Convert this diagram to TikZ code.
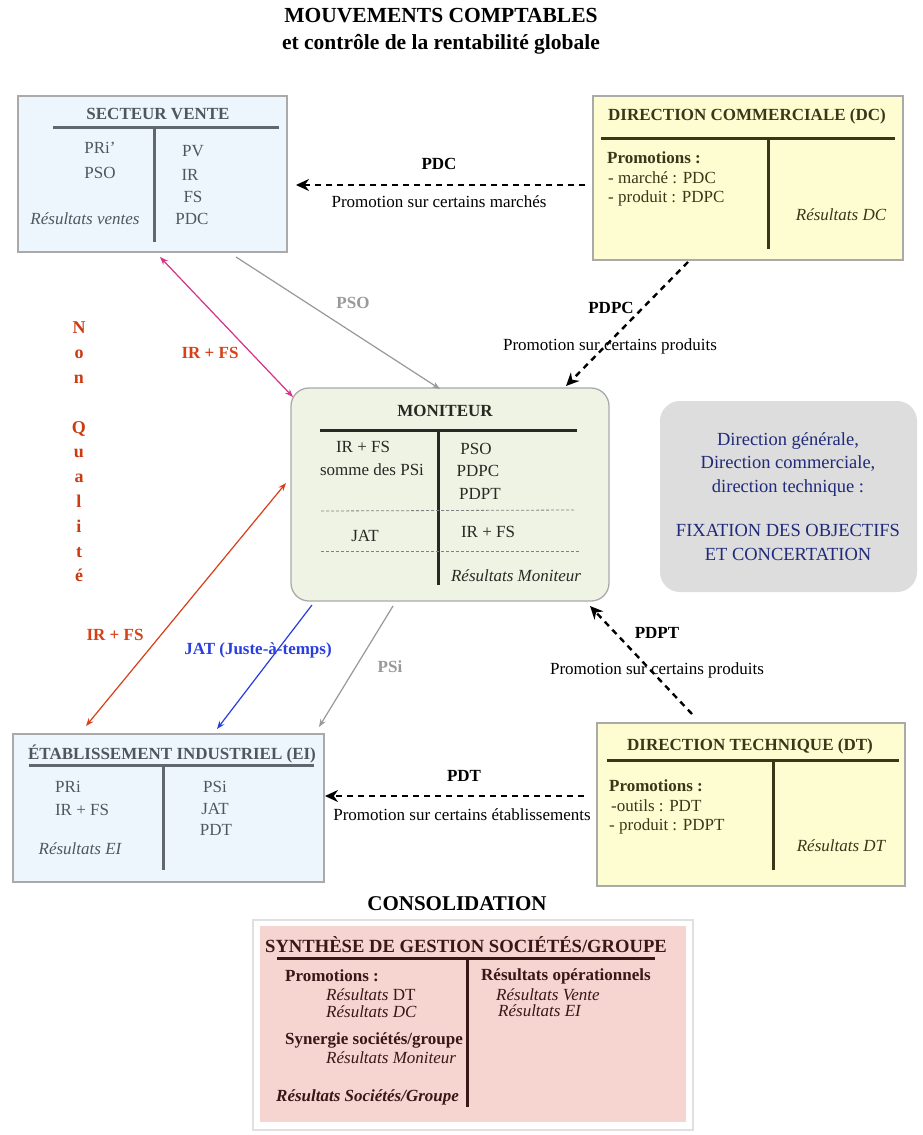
\documentclass[tikz,border=0pt]{standalone}
\usepackage{fontspec}
\setmainfont{Liberation Serif}
\usetikzlibrary{arrows.meta}
\definecolor{bluefill}{HTML}{EEF6FD}
\definecolor{yelfill}{HTML}{FEFDD2}
\definecolor{grnfill}{HTML}{EEF3E4}
\definecolor{grayfill}{HTML}{DDDDDD}
\definecolor{pinkfill}{HTML}{F6D4D0}
\definecolor{boxborder}{HTML}{AAAAAA}
\definecolor{bluetxt}{HTML}{4E5660}
\definecolor{yeltxt}{HTML}{3A3618}
\definecolor{grntxt}{HTML}{262A24}
\definecolor{constxt}{HTML}{3A1616}
\definecolor{navytxt}{HTML}{1F2A7A}
\definecolor{nqred}{HTML}{CC3A12}
\definecolor{arrpink}{HTML}{D6338A}
\definecolor{arrred}{HTML}{D8401A}
\definecolor{arrblue}{HTML}{2A3EE0}
\definecolor{arrgray}{HTML}{999999}
\tikzset{
  box/.style={draw=boxborder, line width=1.3pt, inner sep=0pt},
  txt/.style={inner sep=0pt, font=\fontsize{17}{20}\selectfont},
  btxt/.style={inner sep=0pt, font=\bfseries\fontsize{17}{20}\selectfont},
  itxt/.style={inner sep=0pt, font=\itshape\fontsize{17}{20}\selectfont},
  tline/.style={line width=3pt},
  dasharrow/.style={line width=2.4pt, dash pattern=on 6pt off 5pt, -{Stealth[length=13pt,width=12pt]}},
  thinarrow/.style={line width=1.2pt, -{Stealth[length=8pt,width=6pt]}},
  dblarrow/.style={line width=1.2pt, {Stealth[length=8pt,width=6pt]}-{Stealth[length=8pt,width=6pt]}},
}
\begin{document}
\begin{tikzpicture}[x=1pt,y=-1pt]
\useasboundingbox[fill=white] (0,0) rectangle (923,1135);

% Title
\node[align=center, inner sep=0pt, font=\bfseries\fontsize{21.5}{27}\selectfont] (title) at (441,31) {MOUVEMENTS COMPTABLES\\et contrôle de la rentabilité globale};

% ---------- SECTEUR VENTE ----------
\node[box, fill=bluefill, minimum width=269pt, minimum height=156pt] (sv) at (152.5,174) {};
\node[btxt, text=bluetxt] (svt) at (158,114) {SECTEUR VENTE};
\draw[tline, draw=bluetxt!90] (53,127) -- (279,127);
\draw[tline, draw=bluetxt!90] (154,127) -- (154,242);
\node[txt, text=bluetxt] (sv1) at (100,148) {PRi’};
\node[txt, text=bluetxt] (sv2) at (100,173) {PSO};
\node[itxt, text=bluetxt] (sv3) at (85,219) {Résultats ventes};
\node[txt, text=bluetxt] (sv4) at (193,151) {PV};
\node[txt, text=bluetxt] (sv5) at (190,175) {IR};
\node[txt, text=bluetxt] (sv6) at (193,197) {FS};
\node[txt, text=bluetxt] (sv7) at (192,219) {PDC};

% ---------- DIRECTION COMMERCIALE ----------
\node[box, fill=yelfill, minimum width=310pt, minimum height=164pt] (dc) at (748,178) {};
\node[btxt, text=yeltxt] (dct) at (747,116) {DIRECTION COMMERCIALE (DC)};
\draw[tline, draw=yeltxt] (601,138) -- (895,138);
\draw[tline, draw=yeltxt] (768,138) -- (768,249);
\node[btxt, text=yeltxt, anchor=west] (dc1) at (607,158) {Promotions :};
\node[txt, text=yeltxt, anchor=west] (dc2) at (608,178) {- marché : PDC};
\node[txt, text=yeltxt, anchor=west] (dc3) at (608,198) {- produit : PDPC};
\node[itxt, text=yeltxt] (dc4) at (841,215) {Résultats DC};

% ---------- MONITEUR ----------
\node[box, fill=grnfill, rounded corners=18pt, minimum width=318pt, minimum height=213pt] (mon) at (450,494.5) {};
\node[btxt, text=grntxt] (mont) at (445,411) {MONITEUR};
\draw[tline, draw=grntxt] (320,430) -- (577,430);
\draw[tline, draw=grntxt] (438,430) -- (438,585);
\draw[gray, line width=0.8pt, dash pattern=on 3pt off 2pt] (321,511) -- (574,510);
\draw[gray, line width=0.8pt, dash pattern=on 3pt off 2pt] (321,551) -- (580,551);
\node[txt, text=grntxt] (m1) at (363,447) {IR + FS};
\node[txt, text=grntxt] (m2) at (372,470) {somme des PSi};
\node[txt, text=grntxt] (m3) at (476,449) {PSO};
\node[txt, text=grntxt] (m4) at (478,471) {PDPC};
\node[txt, text=grntxt] (m5) at (480,494) {PDPT};
\node[txt, text=grntxt] (m6) at (365,536) {JAT};
\node[txt, text=grntxt] (m7) at (488,532) {IR + FS};
\node[itxt, text=grntxt] (m8) at (516,576) {Résultats Moniteur};

% ---------- GRAY BOX ----------
\node[fill=grayfill, rounded corners=20pt, minimum width=257pt, minimum height=191pt, inner sep=0pt] (gb) at (788.5,496.5) {};
\node[align=center, inner sep=0pt, text=navytxt, font=\fontsize{18.5}{23.5}\selectfont] (gbt) at (788,496.5)
 {Direction générale,\\Direction commerciale,\\direction technique :\\[21pt]FIXATION DES OBJECTIFS\\ET CONCERTATION};

% ---------- ETABLISSEMENT INDUSTRIEL ----------
\node[box, fill=bluefill, minimum width=311pt, minimum height=148pt] (ei) at (168.5,808) {};
\node[btxt, text=bluetxt] (eit) at (172,754) {ÉTABLISSEMENT INDUSTRIEL (EI)};
\draw[tline, draw=bluetxt!90] (29,765) -- (314,765);
\draw[tline, draw=bluetxt!90] (163,765) -- (163,870);
\node[txt, text=bluetxt] (e1) at (68,787) {PRi};
\node[txt, text=bluetxt] (e2) at (82,810) {IR + FS};
\node[itxt, text=bluetxt] (e3) at (80,849) {Résultats EI};
\node[txt, text=bluetxt] (e4) at (215,787) {PSi};
\node[txt, text=bluetxt] (e5) at (215,809) {JAT};
\node[txt, text=bluetxt] (e6) at (216,830) {PDT};

% ---------- DIRECTION TECHNIQUE ----------
\node[box, fill=yelfill, minimum width=308pt, minimum height=163pt] (dt) at (751,804.5) {};
\node[btxt, text=yeltxt] (dtt) at (750,746) {DIRECTION TECHNIQUE (DT)};
\draw[tline, draw=yeltxt] (607,760) -- (899,760);
\draw[tline, draw=yeltxt] (773,760) -- (773,870);
\node[btxt, text=yeltxt, anchor=west] (dt1) at (609,786) {Promotions :};
\node[txt, text=yeltxt, anchor=west] (dt2) at (611,806) {-outils : PDT};
\node[txt, text=yeltxt, anchor=west] (dt3) at (609,826) {- produit : PDPT};
\node[itxt, text=yeltxt] (dt4) at (841,846) {Résultats DT};

% ---------- CONSOLIDATION ----------
\node[inner sep=0pt, font=\bfseries\fontsize{21}{24}\selectfont] (consT) at (457,904) {CONSOLIDATION};
\node[draw=black!12, line width=1.2pt, fill=white, minimum width=440pt, minimum height=210pt, inner sep=0pt] (cons) at (473,1025) {};
\node[fill=pinkfill, minimum width=426pt, minimum height=196pt, inner sep=0pt] (consin) at (473,1024) {};
\node[inner sep=0pt, text=constxt, font=\bfseries\fontsize{18.6}{22}\selectfont] (ct) at (466,945) {SYNTHÈSE DE GESTION SOCIÉTÉS/GROUPE};
\draw[tline, draw=constxt] (277,958) -- (655,958);
\draw[tline, draw=constxt] (467,958) -- (467,1107);
\node[btxt, text=constxt, anchor=west] (c1) at (285,976) {Promotions :};
\node[txt, text=constxt, anchor=west] (c2) at (326,995) {\textit{Résultats} DT};
\node[itxt, text=constxt, anchor=west] (c3) at (326,1012) {Résultats DC};
\node[btxt, text=constxt, anchor=west] (c4) at (285,1040) {Synergie sociétés/groupe};
\node[itxt, text=constxt, anchor=west] (c5) at (326,1058) {Résultats Moniteur};
\node[text=constxt, anchor=west, inner sep=0pt, font=\bfseries\itshape\fontsize{17}{20}\selectfont] (c6) at (276,1097) {Résultats Sociétés/Groupe};
\node[btxt, text=constxt, anchor=west] (c7) at (481,976) {Résultats opérationnels};
\node[itxt, text=constxt, anchor=west] (c8) at (496,995) {Résultats Vente};
\node[itxt, text=constxt, anchor=west] (c9) at (498,1011) {Résultats EI};

% ---------- NON QUALITE ----------
\node[align=center, inner sep=0pt, text=nqred, font=\bfseries\fontsize{18}{24.8}\selectfont] (nq) at (79,452)
 {N\\o\\n\\~\\Q\\u\\a\\l\\i\\t\\é};

% ---------- CONNECTOR END POINTS ----------
\coordinate (pdcA) at (585,185);  \coordinate (pdcB) at (296,185);
\coordinate (pdpcA) at (688,262); \coordinate (pdpcB) at (566,386);
\coordinate (pdptA) at (692,714); \coordinate (pdptB) at (590,606);
\coordinate (pdtA) at (584,796);  \coordinate (pdtB) at (325,796);
\coordinate (pkA) at (160,257);   \coordinate (pkB) at (293,397);
\coordinate (psoA) at (236,257);  \coordinate (psoB) at (440,389);
\coordinate (rdA) at (86,726);    \coordinate (rdB) at (286,483);
\coordinate (jatA) at (312,605);  \coordinate (jatB) at (217,729);
\coordinate (psiA) at (393,606);  \coordinate (psiB) at (319,727);

% ---------- CONNECTORS ----------
\draw[dasharrow] (pdcA) -- (pdcB);
\node[btxt] (lpdc) at (439,164) {PDC};
\node[txt] (lpdc2) at (439,202) {Promotion sur certains marchés};

\draw[dasharrow] (pdpcA) -- (pdpcB);
\node[btxt] (lpdpc) at (611,308) {PDPC};
\node[txt] (lpdpc2) at (610,346) {Promotion sur certains produits};

\draw[dasharrow] (pdptA) -- (pdptB);
\node[btxt] (lpdpt) at (657,633) {PDPT};
\node[txt] (lpdpt2) at (657,670) {Promotion sur certains produits};

\draw[dasharrow] (pdtA) -- (pdtB);
\node[btxt] (lpdt) at (464,776) {PDT};
\node[txt] (lpdt2) at (462,815) {Promotion sur certains établissements};

\draw[dblarrow, draw=arrpink, fill=arrpink] (pkA) -- (pkB);
\node[btxt, text=arrred] (lpk) at (210,353) {IR + FS};

\draw[thinarrow, draw=arrgray, fill=arrgray] (psoA) -- (psoB);
\node[btxt, text=arrgray] (lpso) at (353,303) {PSO};

\draw[dblarrow, draw=arrred, fill=arrred] (rdA) -- (rdB);
\node[btxt, text=arrred] (lrd) at (115,635) {IR + FS};

\draw[thinarrow, draw=arrblue, fill=arrblue] (jatA) -- (jatB);
\node[btxt, text=arrblue] (ljat) at (258,650) {JAT (Juste-à-temps)};

\draw[thinarrow, draw=arrgray, fill=arrgray] (psiA) -- (psiB);
\node[btxt, text=arrgray] (lpsi) at (390,667) {PSi};

\end{tikzpicture}
\end{document}
